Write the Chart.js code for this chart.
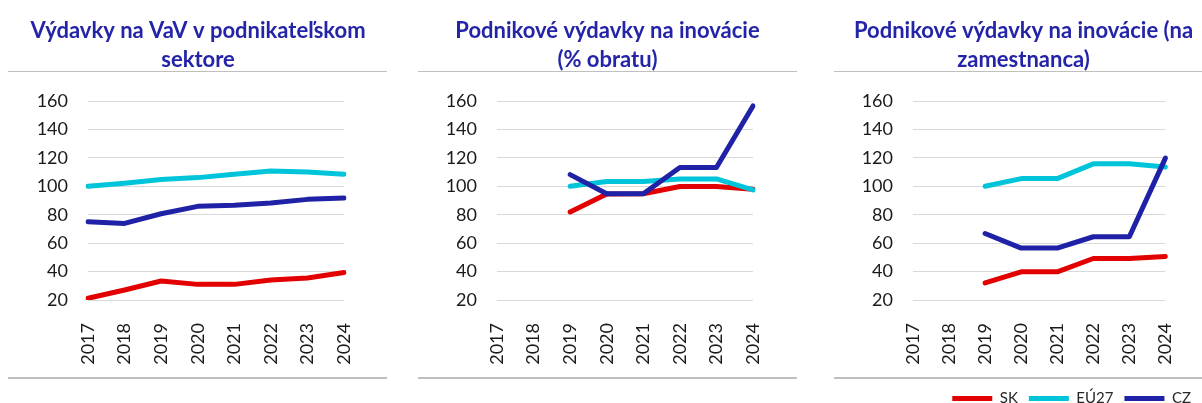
<!DOCTYPE html>
<html><head><meta charset="utf-8">
<script src="https://cdn.jsdelivr.net/npm/chart.js@4.4.1/dist/chart.umd.min.js"></script>
<style>
html,body{margin:0;padding:0;background:#fff;overflow:hidden;width:1202px;height:403px;}
.p{position:absolute;top:0;}
.ln{position:absolute;background:#bfbfbf;}
</style></head><body>
<div class="p" style="left:0;width:396px;height:403px"><canvas id="c1"></canvas></div>
<div class="p" style="left:415px;width:385px;height:403px"><canvas id="c2"></canvas></div>
<div class="p" style="left:845px;width:357px;height:416px"><canvas id="c3"></canvas></div>
<div class="ln" style="left:8px;width:379px;top:71px;height:1px"></div>
<div class="ln" style="left:418px;width:379px;top:71px;height:1px"></div>
<div class="ln" style="left:834px;width:368px;top:71px;height:1px"></div>
<div class="ln" style="left:8px;width:379px;top:377px;height:2px"></div>
<div class="ln" style="left:418px;width:379px;top:377px;height:2px"></div>
<div class="ln" style="left:834px;width:368px;top:377px;height:2px"></div>
<script>
const years = ['2017','2018','2019','2020','2021','2022','2023','2024'];
const seriesNames = ['SK','EÚ27','CZ'];
const yMin = 20, yMax = 160, yStep = 20;

const title1 = ['Výdavky na VaV v podnikateľskom','sektore'];
const title2 = ['Podnikové výdavky na inovácie','(% obratu)'];
const title3 = ['Podnikové výdavky na inovácie (na','zamestnanca)'];

const rdSK = [21.2, 27, 33.4, 31, 31, 34, 35.5, 39.3];
const rdEU = [100, 102.1, 104.7, 106.1, 108.5, 110.8, 110.1, 108.5];
const rdCZ = [75.1, 73.9, 80.7, 85.9, 86.6, 88.2, 90.8, 91.8];

const turnSK = [null, null, 81.9, 94.5, 94.8, 99.8, 99.8, 97.9];
const turnEU = [null, null, 100, 103.3, 103.3, 105.2, 105.2, 97.4];
const turnCZ = [null, null, 108.2, 94.8, 94.8, 113.2, 113.2, 156.5];

const empSK = [null, null, 32, 39.8, 39.8, 49.2, 49.2, 50.6];
const empEU = [null, null, 100, 105.4, 105.4, 115.8, 115.8, 113.6];
const empCZ = [null, null, 66.8, 56.5, 56.5, 64.5, 64.5, 119.8];

const colors = ['#E30000', '#00C4DA', '#1F22A6'];
const titleColor = '#2424A8';
const textColor = '#1a1a1a';

function makeChart(id, titleLines, sk, eu, cz, yW, rW, xH, showLegend) {
  const vals = [sk, eu, cz];
  const datasets = vals.map((d, i) => ({
    label: seriesNames[i],
    data: d,
    borderColor: colors[i],
    backgroundColor: colors[i],
    borderWidth: 5,
    pointRadius: 0,
    pointHoverRadius: 0,
    tension: 0,
    borderCapStyle: 'round',
    borderJoinStyle: 'round',
    order: 3 - i,
    yAxisID: 'y'
  }));
  return new Chart(document.getElementById(id), {
    type: 'line',
    data: { labels: years, datasets },
    options: {
      responsive: true,
      maintainAspectRatio: false,
      animation: false,
      events: [],
      layout: { padding: 0 },
      plugins: {
        title: {
          display: true,
          text: titleLines,
          color: titleColor,
          font: { family: 'Lato', size: 22, weight: 'bold', lineHeight: '29.5px' },
          padding: { top: 15.75, bottom: 26.25 }
        },
        legend: {
          display: showLegend,
          position: 'bottom',
          align: 'end',
          labels: {
            usePointStyle: true,
            pointStyle: 'line',
            pointStyleWidth: 40,
            color: '#262626',
            font: { family: 'Lato', size: 15 },
            padding: 11,
            sort: (a, b) => a.datasetIndex - b.datasetIndex
          }
        },
        tooltip: { enabled: false }
      },
      scales: {
        x: {
          type: 'category',
          grid: { display: false },
          border: { display: false },
          ticks: {
            minRotation: 90, maxRotation: 90, autoSkip: false,
            padding: 15, color: textColor,
            font: { family: 'Lato', size: 18 }
          },
          afterFit: s => { s.height = xH; }
        },
        y: {
          type: 'linear',
          position: 'left',
          min: yMin, max: yMax,
          grid: { color: '#d9d9d9', lineWidth: 1, drawTicks: false },
          border: { display: false },
          ticks: { stepSize: yStep, padding: 20, color: textColor, font: { family: 'Lato', size: 18 } },
          afterFit: s => { s.width = yW; }
        },
        yR: {
          type: 'linear',
          position: 'right',
          display: true,
          grid: { display: false, drawTicks: false },
          border: { display: false },
          ticks: { display: false },
          afterFit: s => { s.width = rW; }
        }
      }
    }
  });
}

makeChart('c1', title1, rdSK, rdEU, rdCZ, 88, 52, 103, false);
makeChart('c2', title2, turnSK, turnEU, turnCZ, 82, 47, 103, false);
makeChart('c3', title3, empSK, empEU, empCZ, 68, 32, 80, true);
</script>
</body></html>
